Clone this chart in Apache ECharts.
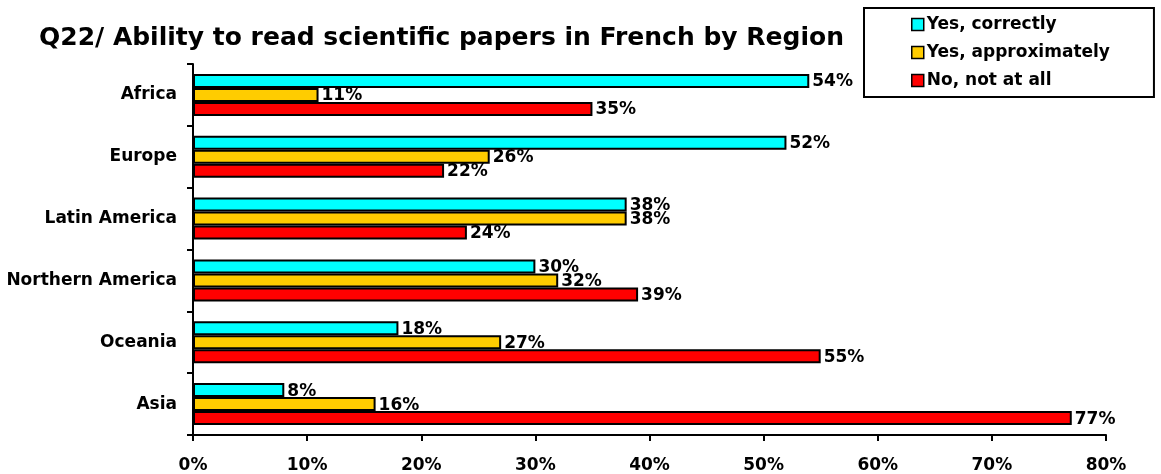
<!DOCTYPE html>
<html>
<head>
<meta charset="utf-8">
<script src="https://cdn.jsdelivr.net/npm/echarts@6/dist/echarts.min.js"></script>
<style>
  html, body { margin: 0; padding: 0; background: #fff; }
  #chart { width: 1161px; height: 474px; }
</style>
</head>
<body>
<div id="chart"></div>
<script>
// Regions, top to bottom
const regions = ['Africa', 'Europe', 'Latin America', 'Northern America', 'Oceania', 'Asia'];
// Share of respondents (%) per answer
const yesCorrectly = [54, 52, 38, 30, 18, 8];
const yesApproximately = [11, 26, 38, 32, 27, 16];
const noNotAtAll = [35, 22, 24, 39, 55, 77];
const seriesNames = ['Yes, correctly', 'Yes, approximately', 'No, not at all'];
const seriesColors = ['#00FFFF', '#FFCC00', '#FF0000'];

const FONT = 'DejaVu Sans, sans-serif';

const chart = echarts.init(document.getElementById('chart'), null, { renderer: 'canvas' });

function barSeries(name, data, color) {
  return {
    name: name,
    type: 'bar',
    data: data,
    barWidth: 14,
    barGap: '0%',
    itemStyle: { color: color, borderColor: '#000', borderWidth: 2 },
    label: {
      show: true,
      position: 'right',
      distance: 3,
      offset: [0, 1],
      formatter: '{c}%',
      color: '#000',
      fontFamily: FONT,
      fontWeight: 'bold',
      fontSize: 17
    },
    emphasis: { disabled: true }
  };
}

chart.setOption({
  backgroundColor: '#fff',
  animation: false,
  title: {
    text: 'Q22/ Ability to read scientific papers in French by Region',
    left: 34,
    top: 21,
    textStyle: { fontFamily: FONT, fontWeight: 'bold', fontSize: 25, color: '#000' }
  },
  legend: {
    orient: 'vertical',
    left: 864,
    top: 8,
    padding: [8, 44, 8, 47],
    itemGap: 11,
    itemWidth: 12,
    itemHeight: 12,
    icon: 'rect',
    borderColor: '#000',
    borderWidth: 2,
    backgroundColor: '#fff',
    itemStyle: { borderColor: '#000', borderWidth: 1.5 },
    textStyle: { fontFamily: FONT, fontWeight: 'bold', fontSize: 17, color: '#000', padding: [0, 0, 0, -2] },
    data: seriesNames
  },
  grid: { left: 193, right: 55, top: 64, bottom: 39, containLabel: false },
  xAxis: {
    type: 'value',
    min: 0,
    max: 80,
    interval: 10,
    axisLine: { show: true, lineStyle: { color: '#000', width: 2 } },
    axisTick: { show: true, length: 6, lineStyle: { color: '#000', width: 2 } },
    splitLine: { show: false },
    axisLabel: {
      formatter: '{value}%',
      margin: 22,
      color: '#000',
      fontFamily: FONT,
      fontWeight: 'bold',
      fontSize: 17
    }
  },
  yAxis: {
    type: 'category',
    inverse: true,
    data: regions,
    axisLine: { show: true, lineStyle: { color: '#000', width: 2 } },
    axisTick: { show: true, length: 6, lineStyle: { color: '#000', width: 2 } },
    axisLabel: {
      margin: 16,
      color: '#000',
      fontFamily: FONT,
      fontWeight: 'bold',
      fontSize: 17
    }
  },
  series: [
    barSeries(seriesNames[0], yesCorrectly, seriesColors[0]),
    barSeries(seriesNames[1], yesApproximately, seriesColors[1]),
    barSeries(seriesNames[2], noNotAtAll, seriesColors[2])
  ]
});
</script>
</body>
</html>
